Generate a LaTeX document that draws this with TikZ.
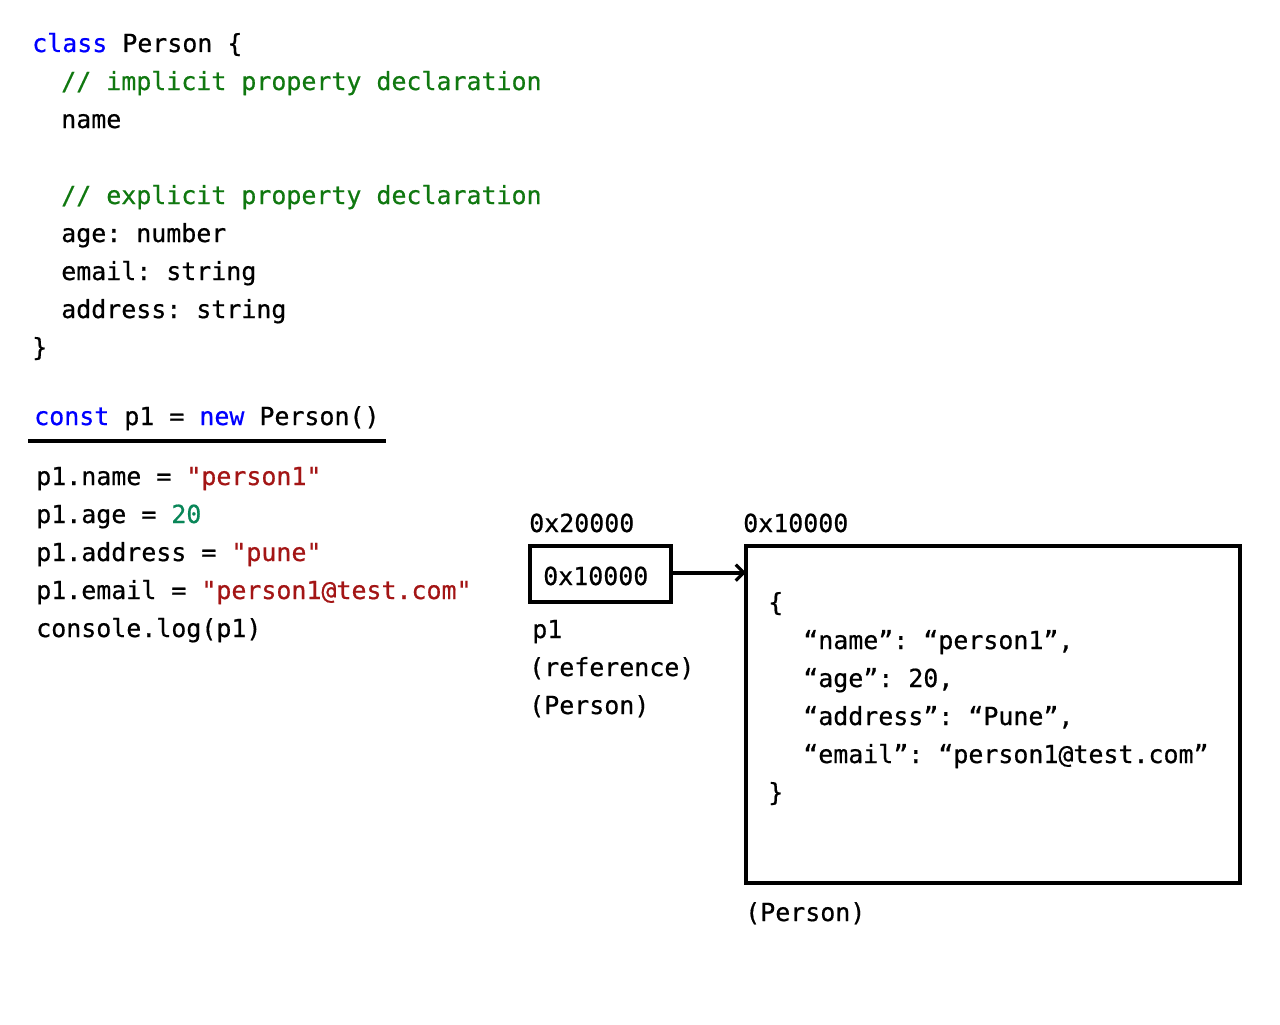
\documentclass[tikz,border=0pt]{standalone}
\usepackage{fontspec}
\setmonofont[FakeBold=0.6]{DejaVu Sans Mono}
\usetikzlibrary{arrows.meta}
\definecolor{kw}{HTML}{0000FF}
\definecolor{cm}{HTML}{107810}
\definecolor{str}{HTML}{A31515}
\definecolor{num}{HTML}{098658}
\tikzset{
  code/.style={anchor=base west, inner sep=0pt, font=\ttfamily\fontsize{18.7}{22}\selectfont, text=black},
  memcell/.style={draw=black, line width=3pt, inner sep=0pt, outer sep=0pt, anchor=north west},
  conn/.style={line width=3pt, -{Straight Barb[length=6pt,width=12pt,line width=2.4pt]}},
  rule/.style={line width=3pt}
}
\begin{document}
\begin{tikzpicture}[x=0.75pt,y=-0.75pt]
\useasboundingbox (0,0) rectangle (1280,1024);
% class definition
\node[code] (l1) at (32,52) {\textcolor{kw}{class} Person \{};
\node[code] (l2) at (61,90) {\textcolor{cm}{// implicit property declaration}};
\node[code] (l3) at (61,128) {name};
\node[code] (l4) at (61,204) {\textcolor{cm}{// explicit property declaration}};
\node[code] (l5) at (61,242) {age: number};
\node[code] (l6) at (61,280) {email: string};
\node[code] (l7) at (61,318) {address: string};
\node[code] (l8) at (32,356) {\}};
% instantiation
\node[code] (c1) at (34,425) {\textcolor{kw}{const} p1 = \textcolor{kw}{new} Person()};
\coordinate (u1) at (28,441);
\coordinate (u2) at (386,441);
\draw[rule] (u1) -- (u2);
\node[code] (a1) at (36,485) {p1.name = \textcolor{str}{"person1"}};
\node[code] (a2) at (36,523) {p1.age = \textcolor{num}{20}};
\node[code] (a3) at (36,561) {p1.address = \textcolor{str}{"pune"}};
\node[code] (a4) at (36,599) {p1.email = \textcolor{str}{"person1@test.com"}};
\node[code] (a5) at (36,637) {console.log(p1)};
% reference cell
\node[code] (addr2) at (529,532) {0x20000};
\node[memcell, minimum width=105.75pt, minimum height=42pt] (small) at (530,546) {};
\node[code] (sval) at (543,585) {0x10000};
\node[code] (p1l) at (532,638) {p1};
\node[code] (refl) at (529,676) {(reference)};
\node[code] (perl) at (529,714) {(Person)};
% object cell
\node[code] (addr1) at (743,532) {0x10000};
\node[memcell, minimum width=370.5pt, minimum height=252.75pt] (big) at (746,546) {};
\node[code] (ob1) at (768,611) {\{};
\node[code] (ob2) at (803,649) {“name”: “person1”,};
\node[code] (ob3) at (803,687) {“age”: 20,};
\node[code] (ob4) at (803,725) {“address”: “Pune”,};
\node[code] (ob5) at (803,763) {“email”: “person1@test.com”};
\node[code] (ob6) at (768,801) {\}};
\node[code] (objt) at (745,921) {(Person)};
% pointer
\draw[conn] ([yshift=1pt]small.east) -- ([yshift=1pt]small.east -| big.west);
\end{tikzpicture}
\end{document}
